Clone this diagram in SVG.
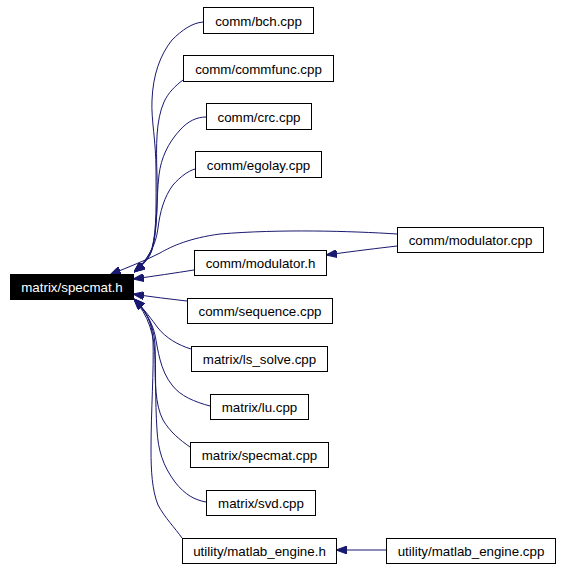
<svg xmlns="http://www.w3.org/2000/svg" width="561" height="569" viewBox="0 0 561 569">
<style>
.n rect{fill:#fff;stroke:#000;stroke-width:1}
.n text{font-family:"Liberation Sans",Arial,sans-serif;font-size:13.33px;fill:#000;text-anchor:middle}
#specmat_h rect{fill:#000}
#specmat_h text{fill:#fff}
.e path{fill:none;stroke:#191970;stroke-width:1;marker-end:url(#ah)}
</style>
<defs>
<marker id="ah" viewBox="0 0 11 8" refX="11" refY="4" markerWidth="11" markerHeight="8" markerUnits="userSpaceOnUse" orient="auto">
<path d="M0,0 L11,4 L0,8 z" fill="#191970" stroke="#191970" stroke-width="1"/>
</marker>
</defs>
<rect width="561" height="569" fill="#fff"/>
<g id="edges" class="e">
<path d="M203,22 C192,23 182,30 172,40 C160,55 153,75 152,100 C151,120 156,140 156,170 C156,200 157,230 152,248 C148,258 142,265 134,272"/>
<path d="M183,80 C175,86 168,93 164,102 C156,120 156,145 157,175 C158,210 156,240 150,255 C146,262 140,268 134,272"/>
<path d="M206,117 C197,117 188,121 180,130 C168,143 161,158 159,175 C156,200 158,230 152,250 C148,260 141,266 134,272"/>
<path d="M195,169 C188,171 180,177 173,185 C164,197 160,212 158,228 C156,245 148,260 134,272"/>
<path d="M397,234 C350,231 280,229 220,234 C190,238 172,246 160,253 C145,261 125,268 110,275"/>
<path d="M397,246 C380,248 355,251 326,255"/>
<path d="M194,270 C175,273 155,276 133,279"/>
<path d="M187,301 C170,299 152,297 133,294"/>
<path d="M191,349 C178,345 166,338 158,328 C152,320 145,310 134,299"/>
<path d="M210,406 C195,402 180,396 172,385 C160,370 158,350 155,335 C152,322 145,310 134,299"/>
<path d="M190,447 C180,440 170,432 163,420 C155,405 155,380 155,360 C155,335 148,315 134,299"/>
<path d="M206,502 C195,500 185,495 175,482 C163,466 158,450 157,430 C155,400 156,370 155,345 C154,325 146,311 134,299"/>
<path d="M182,538 C175,528 165,518 158,505 C152,490 151,470 151,450 C151,410 154,370 153,340 C152,322 146,310 134,299"/>
<path d="M386,550 L336,550"/>
</g>
<g id="specmat_h" class="n"><rect x="10.5" y="274.5" width="123" height="25"/><text x="72" y="292">matrix/specmat.h</text></g>
<g id="bch" class="n"><rect x="203.5" y="7.5" width="110" height="26"/><text x="258.5" y="25.5">comm/bch.cpp</text></g>
<g id="commfunc" class="n"><rect x="183.5" y="55.5" width="150" height="26"/><text x="258.5" y="73.5">comm/commfunc.cpp</text></g>
<g id="crc" class="n"><rect x="206.5" y="103.5" width="105" height="26"/><text x="259" y="121.5">comm/crc.cpp</text></g>
<g id="egolay" class="n"><rect x="195.5" y="151.5" width="126" height="26"/><text x="258.5" y="169.5">comm/egolay.cpp</text></g>
<g id="modulator_cpp" class="n"><rect x="397.5" y="227.5" width="146" height="25"/><text x="470.5" y="245">comm/modulator.cpp</text></g>
<g id="modulator_h" class="n"><rect x="194.5" y="250.5" width="132" height="25"/><text x="260.5" y="268">comm/modulator.h</text></g>
<g id="sequence" class="n"><rect x="187.5" y="298.5" width="145" height="25"/><text x="260" y="316">comm/sequence.cpp</text></g>
<g id="ls_solve" class="n"><rect x="191.5" y="346.5" width="136" height="25"/><text x="259.5" y="364">matrix/ls_solve.cpp</text></g>
<g id="lu" class="n"><rect x="210.5" y="394.5" width="98" height="25"/><text x="259.5" y="412">matrix/lu.cpp</text></g>
<g id="specmat_cpp" class="n"><rect x="190.5" y="442.5" width="138" height="25"/><text x="259.5" y="460">matrix/specmat.cpp</text></g>
<g id="svd" class="n"><rect x="206.5" y="490.5" width="109" height="25"/><text x="261" y="508">matrix/svd.cpp</text></g>
<g id="matlab_engine_h" class="n"><rect x="182.5" y="538.5" width="154" height="25"/><text x="259.5" y="556">utility/matlab_engine.h</text></g>
<g id="matlab_engine_cpp" class="n"><rect x="386.5" y="538.5" width="169" height="25"/><text x="471" y="556">utility/matlab_engine.cpp</text></g>
</svg>
